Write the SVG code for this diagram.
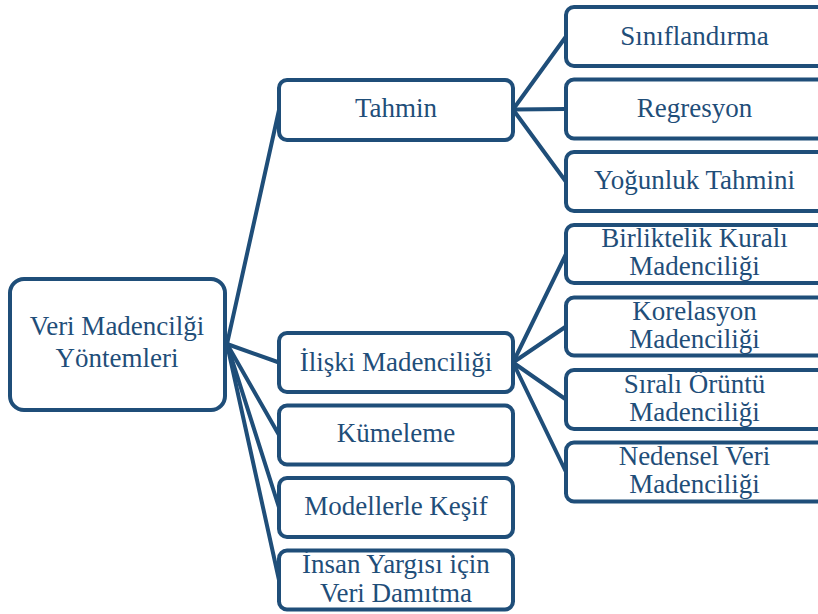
<svg xmlns="http://www.w3.org/2000/svg" width="818" height="614" viewBox="0 0 818 614">
<style>
.box{fill:#ffffff;stroke:#1f4e79;stroke-width:4}
.lbl{font-family:'Liberation Serif','Times New Roman',serif;font-size:27px;fill:#1f4e79;text-anchor:middle}
.con{stroke:#1f4e79;stroke-width:4;fill:none;stroke-linecap:round}
</style>
<rect width="818" height="614" fill="#ffffff"/>
<g id="connectors">
<line class="con" x1="227" y1="344" x2="279" y2="110"/>
<line class="con" x1="227" y1="344" x2="279" y2="362.5"/>
<line class="con" x1="227" y1="344" x2="279" y2="435"/>
<line class="con" x1="227" y1="344" x2="279" y2="507.5"/>
<line class="con" x1="227" y1="344" x2="279" y2="580"/>
<line class="con" x1="513" y1="109.5" x2="566" y2="36.5"/>
<line class="con" x1="513" y1="109.5" x2="566" y2="109"/>
<line class="con" x1="513" y1="109.5" x2="566" y2="181.7"/>
<line class="con" x1="513" y1="362.5" x2="566" y2="254"/>
<line class="con" x1="513" y1="362.5" x2="566" y2="326.5"/>
<line class="con" x1="513" y1="362.5" x2="566" y2="399.5"/>
<line class="con" x1="513" y1="362.5" x2="566" y2="472"/>
</g>
<g id="root">
<rect class="box" x="10" y="279" width="215" height="131" rx="14"/>
<text class="lbl" x="117" y="335">Veri Madencilği</text>
<text class="lbl" x="117" y="367">Yöntemleri</text>
</g>
<g id="tahmin">
<rect class="box" x="279" y="80" width="234" height="60" rx="8"/>
<text class="lbl" x="396" y="117">Tahmin</text>
</g>
<g id="iliski">
<rect class="box" x="279" y="333" width="234" height="59" rx="8"/>
<text class="lbl" x="396" y="371">İlişki Madenciliği</text>
</g>
<g id="kumeleme">
<rect class="box" x="279" y="405.5" width="234" height="59" rx="8"/>
<text class="lbl" x="396" y="442">Kümeleme</text>
</g>
<g id="modellerle">
<rect class="box" x="279" y="478" width="234" height="59" rx="8"/>
<text class="lbl" x="396" y="515">Modellerle Keşif</text>
</g>
<g id="insan">
<rect class="box" x="279" y="550.5" width="234" height="59" rx="8"/>
<text class="lbl" x="396" y="573">İnsan Yargısı için</text>
<text class="lbl" x="396" y="602">Veri Damıtma</text>
</g>
<g id="siniflandirma">
<rect class="box" x="566" y="7" width="260" height="59" rx="8"/>
<text class="lbl" x="694.5" y="45">Sınıflandırma</text>
</g>
<g id="regresyon">
<rect class="box" x="566" y="79.5" width="260" height="59" rx="8"/>
<text class="lbl" x="694.5" y="117">Regresyon</text>
</g>
<g id="yogunluk">
<rect class="box" x="566" y="152" width="260" height="59" rx="8"/>
<text class="lbl" x="694.5" y="189">Yoğunluk Tahmini</text>
</g>
<g id="birliktelik">
<rect class="box" x="566" y="225" width="260" height="58" rx="8"/>
<text class="lbl" x="694.5" y="247">Birliktelik Kuralı</text>
<text class="lbl" x="694.5" y="275">Madenciliği</text>
</g>
<g id="korelasyon">
<rect class="box" x="566" y="297.5" width="260" height="58" rx="8"/>
<text class="lbl" x="694.5" y="320">Korelasyon</text>
<text class="lbl" x="694.5" y="348">Madenciliği</text>
</g>
<g id="sirali">
<rect class="box" x="566" y="370" width="260" height="59" rx="8"/>
<text class="lbl" x="694.5" y="393">Sıralı Örüntü</text>
<text class="lbl" x="694.5" y="421">Madenciliği</text>
</g>
<g id="nedensel">
<rect class="box" x="566" y="442.5" width="260" height="59" rx="8"/>
<text class="lbl" x="694.5" y="465">Nedensel Veri</text>
<text class="lbl" x="694.5" y="493">Madenciliği</text>
</g>
</svg>
